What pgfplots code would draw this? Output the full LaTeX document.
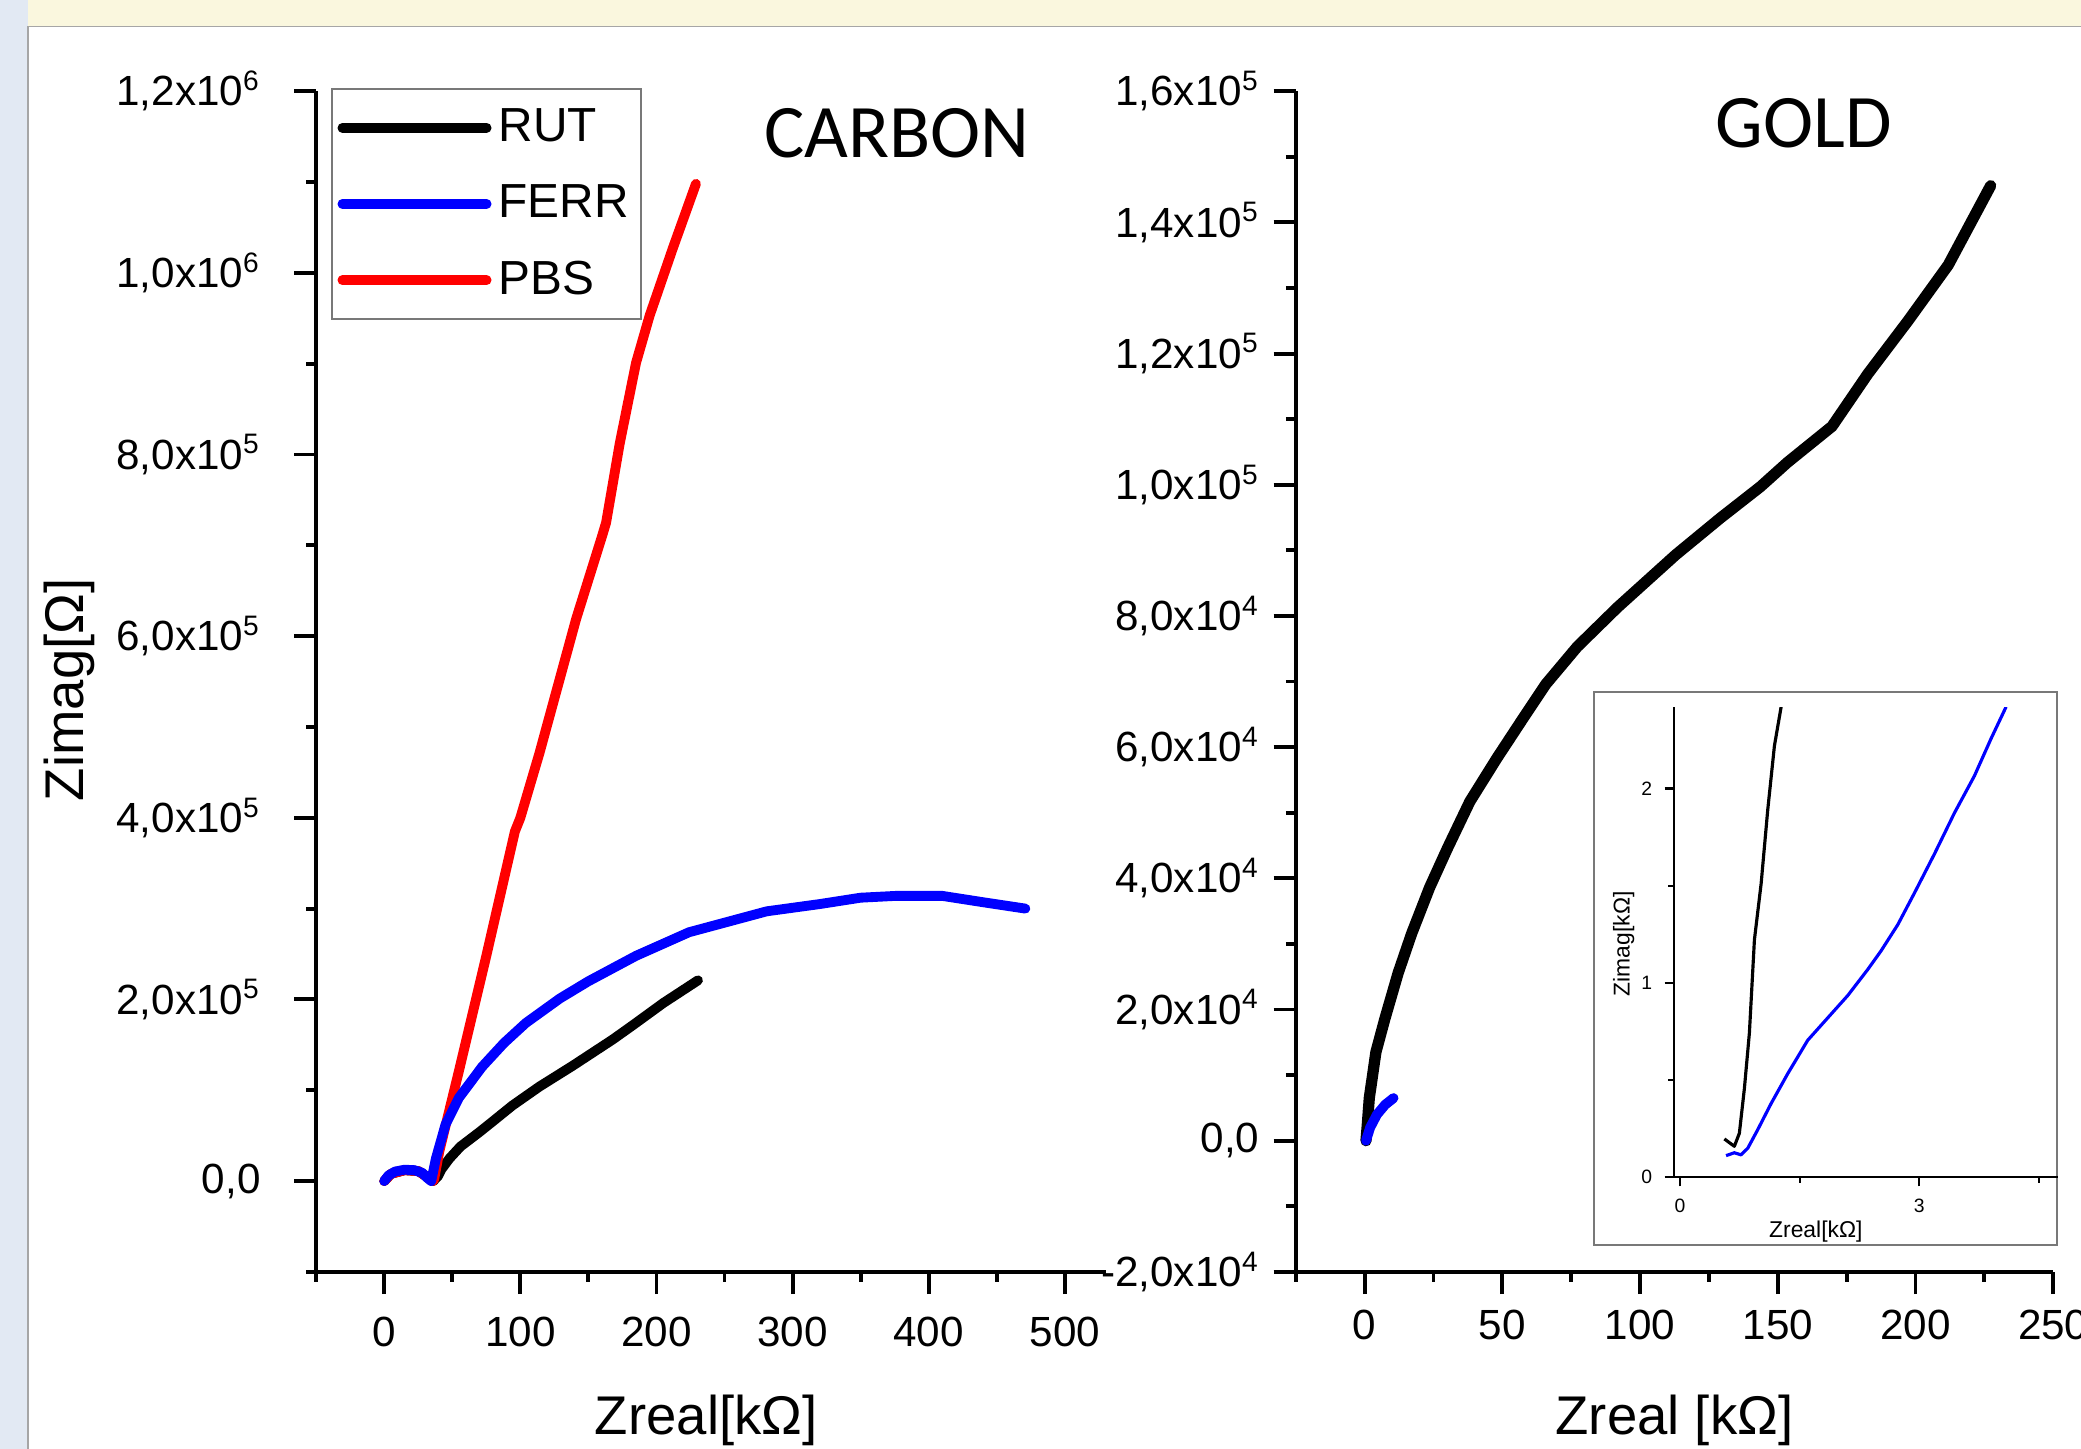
\documentclass[border=0pt]{standalone}
\usepackage{fontspec}
\setmainfont{Liberation Sans}
\newfontfamily\calibri{Carlito}
\usepackage{pgfplots}
\pgfplotsset{compat=1.18}

\definecolor{bgcream}{RGB}{250,247,222}
\definecolor{bgblue}{RGB}{226,233,243}
\definecolor{framegray}{RGB}{120,120,120}

\newcommand{\sci}[2]{\mbox{#1x10\textsuperscript{#2}}}

\pgfplotsset{
  nyq/.style={
    scale only axis,
    axis x line*=bottom, axis y line*=left,
    axis line style={line width=1.1pt, -},
    tick align=outside,
    major tick length=6.3pt, minor tick length=2.8pt,
    every tick/.style={line width=1.1pt, black},
    every minor tick/.style={line width=1.1pt, black},
    tick label style={font=\fontsize{12}{14}\selectfont},
    /pgf/number format/assume math mode=true,
    label style={font=\fontsize{15.5}{18}\selectfont},
    clip=true,
  },
  curve/.style={line width=2.8pt, line join=round, line cap=round, mark=none, forget plot},
}

\begin{document}
\begin{tikzpicture}[x=0.01cm, y=0.01cm]
\path[use as bounding box] (0,0) rectangle (2081,1449);
\fill[bgcream] (0,0) rectangle (2081,1449);
\fill[bgblue] (0,0) rectangle (28,1449);
\fill[white] (28,0) rectangle (2081,1422.5);
\draw[gray!70, line width=0.5pt] (28,0) -- (28,1422.5) -- (2081,1422.5);

% CARBON
\begin{axis}[nyq,
  at={(3.16cm,1.77cm)}, anchor=south west,
  width=7.89cm, height=11.8cm,
  xmin=-50, xmax=530, ymin=-100000, ymax=1200000,
  xtick={0,100,200,300,400,500},
  minor xtick={-50,50,150,250,350,450},
  ytick={0,200000,400000,600000,800000,1000000,1200000},
  minor ytick={-100000,100000,300000,500000,700000,900000,1100000},
  yticklabels={{0,0},{\sci{2,0}{5}},{\sci{4,0}{5}},{\sci{6,0}{5}},{\sci{8,0}{5}},{\sci{1,0}{6}},{\sci{1,2}{6}}},
  yticklabel style={xshift=-6pt},
  xticklabel style={yshift=-3pt},
  scaled y ticks=false,
  xlabel={Zreal[kΩ]}, ylabel={Zimag[Ω]},
  xlabel style={at={(axis description cs:0.494,-0.1254)}, anchor=center},
  ylabel style={at={(axis description cs:-0.313,0.493)}, anchor=center},
  legend style={at={(axis description cs:0.019,1.0025)}, anchor=north west,
    draw=framegray, line width=0.6pt, font=\fontsize{13.6}{16}\selectfont,
    inner xsep=1.5pt, inner ysep=3.5pt, row sep=6.8pt, cells={anchor=west}},
  legend image code/.code={\draw[#1, line width=2.8pt, line cap=round] (0pt,0pt) -- (41pt,0pt);},
]
\addlegendimage{black}\addlegendentry{RUT}
\addlegendimage{blue}\addlegendentry{FERR}
\addlegendimage{red}\addlegendentry{PBS}

\addplot[curve, black] coordinates {
  (0,0) (5,8000) (15,12000) (25,11000) (32,4000) (36,0) (39.3,5000) (42,13000)
  (48,25000) (56,38000) (70,54000) (80,66000) (94,83000) (114,104000)
  (138.5,127000) (168,156000) (183,172000) (205,196000) (230.5,221000)
};
\addplot[curve, red] coordinates {
  (0,0) (5,8000) (15,12000) (25,11000) (32,4000) (36,0) (36.8,3000) (40.5,33000)
  (55,122000) (75,248000) (96,385000) (100,400000) (114,471000) (141,619000)
  (160,710000) (163,725000) (173,812000) (185,901000) (195,953000)
  (212,1027000) (229,1098000)
};
\addplot[curve, blue] coordinates {
  (0,0) (3,6000) (8,10500) (15,12500) (22,12000) (28,9000) (32,3000) (34.5,0)
  (38,25000) (45,62000) (55,92000) (72,126000) (88,152000) (104,174000) (129,201000)
  (150,220000) (185,248000) (224,274000) (281,297000) (320,305000)
  (350,312000) (376,314000) (410,314000) (440,307000) (471,300000)
};
\end{axis}

\node[font=\calibri\fontsize{21.5}{25}\selectfont] at (897,1316) {CARBON};

% GOLD
\begin{axis}[nyq,
  at={(12.95cm,1.77cm)}, anchor=south west,
  width=7.57cm, height=11.8cm,
  xmin=-25, xmax=250, ymin=-20000, ymax=160000,
  xtick={0,50,100,150,200,250},
  minor xtick={-25,25,75,125,175,225},
  ytick={-20000,0,20000,40000,60000,80000,100000,120000,140000,160000},
  minor ytick={-10000,10000,30000,50000,70000,90000,110000,130000,150000},
  yticklabels={{\sci{-2,0}{4}},{0,0},{\sci{2,0}{4}},{\sci{4,0}{4}},{\sci{6,0}{4}},{\sci{8,0}{4}},{\sci{1,0}{5}},{\sci{1,2}{5}},{\sci{1,4}{5}},{\sci{1,6}{5}}},
  yticklabel style={xshift=-0.5pt},
  xticklabel style={yshift=-1pt},
  scaled y ticks=false,
  xlabel={Zreal [kΩ]},
  xlabel style={at={(axis description cs:0.5,-0.1254)}, anchor=center},
]
\addplot[curve, black, line width=3.2pt] coordinates {
  (0.5,0) (0.9,2000) (1.7,6500) (4.1,13500) (7.3,18500) (12.2,25600)
  (17.1,31600) (23.6,38600) (30.1,44600) (38.2,51700) (48,58300) (57.7,64500)
  (65.8,69600) (77.2,75300) (91.8,81300) (112.9,89300) (129.1,94900)
  (143.7,99700) (153.5,103400) (169.7,108900) (182.7,116900) (197.3,125000)
  (211.9,133500) (227.3,145600)
};
\addplot[curve, blue] coordinates {
  (0.5,0) (2,2000) (4.5,4000) (7.5,5500) (10.5,6500)
};
\end{axis}

\node[font=\calibri\fontsize{21.5}{25}\selectfont] at (1804,1326) {GOLD};

% inset
\fill[white] (1594,204) rectangle (2057,757);
\draw[framegray, line width=0.5pt] (1594,204) rectangle (2057,757);
\begin{axis}[
  scale only axis,
  at={(16.727cm,2.716cm)}, anchor=south west,
  width=3.84cm, height=4.695cm,
  xmin=-0.08, xmax=4.74, ymin=0, ymax=2.417,
  axis x line*=bottom, axis y line*=left,
  axis line style={line width=0.6pt, -},
  tick align=outside,
  major tick length=2.6pt, minor tick length=1.5pt,
  every tick/.style={line width=0.6pt, black},
  every minor tick/.style={line width=0.6pt, black},
  xtick={0,3}, minor xtick={1.5,4.5},
  ytick={0,1,2}, minor ytick={0.5,1.5},
  tick label style={font=\fontsize{5.5}{6.5}\selectfont},
  /pgf/number format/assume math mode=true,
  label style={font=\fontsize{6.5}{7.5}\selectfont},
  xlabel={Zreal[kΩ]}, ylabel={Zimag[kΩ]},
  xlabel style={at={(axis description cs:0.37,-0.115)}, anchor=center},
  ylabel style={at={(axis description cs:-0.13,0.497)}, anchor=center},
]
\addplot[black, line width=0.9pt, mark=none, line join=round] coordinates {
  (0.556,0.197) (0.681,0.159) (0.744,0.226) (0.807,0.456) (0.870,0.743)
  (0.933,1.222) (1.017,1.51) (1.10,1.89) (1.184,2.22) (1.268,2.42)
};
\addplot[blue, line width=0.9pt, mark=none, line join=round] coordinates {
  (0.577,0.111) (0.681,0.126) (0.765,0.115) (0.849,0.149) (0.975,0.245)
  (1.142,0.379) (1.351,0.533) (1.602,0.705) (1.853,0.820) (2.104,0.935)
  (2.355,1.069) (2.522,1.165) (2.731,1.299) (2.940,1.462) (3.191,1.663)
  (3.442,1.874) (3.693,2.065) (3.902,2.257) (4.090,2.42)
};
\end{axis}
\end{tikzpicture}
\end{document}
